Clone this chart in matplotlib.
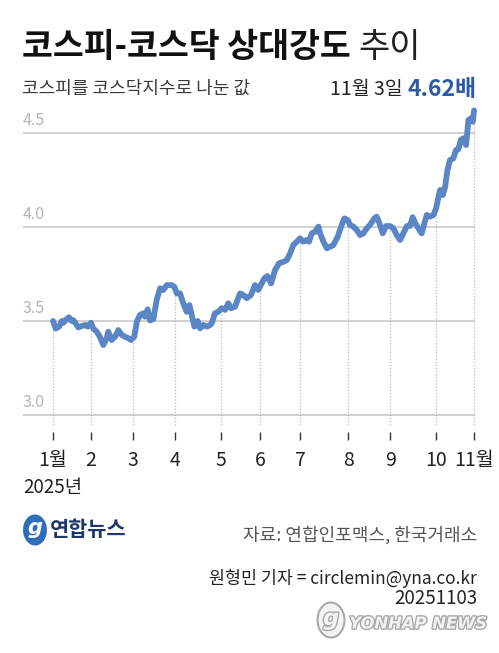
import numpy as np
import matplotlib.pyplot as plt
from matplotlib.patches import Ellipse
from matplotlib import patheffects as pe

plt.rcParams['font.family'] = ['Noto Sans CJK KR', 'DejaVu Sans']

# trading-day number since 2025-01-02 and KOSPI / KOSDAQ ratio
day = [0, 1.3, 2.9, 4.2, 4.9, 6.5, 7.6, 8.9, 9.7, 12.1, 13.7, 15.3, 16.6, 18.1, 19.2,
       20.9, 22.4, 24.0, 25.6, 26.4, 28.0, 29.6, 31.2, 32.8, 34.4, 36.0, 37.2, 38.8,
       40.0, 41.5, 43.1, 43.9, 45.2, 46.3, 47.9, 49.5, 51.1, 52.7, 54.3, 56.7, 57.9,
       59.1, 60.6, 62.2, 63.8, 65.1, 66.2, 67.5, 69.1, 70.2, 71.8, 73.4, 75.0, 75.8,
       77.3, 78.9, 80.5, 82.1, 83.7, 85.0, 86.9, 89.3, 90.9, 92.5, 94.5, 96.4, 98.0,
       99.6, 100.9, 102.3, 104.1, 106.0, 107.9, 110.0, 111.6, 113.2, 114.7, 116.4,
       117.9, 119.5, 121.1, 122.2, 123.5, 125.1, 126.7, 127.5, 129.1, 130.7, 132.3,
       133.8, 135.9, 137.8, 139.1, 140.7, 141.8, 143.4, 145.0, 146.6, 148.1, 149.8,
       151.3, 153.4, 154.5, 155.8, 157.4, 159.0, 160.9, 162.5, 164.1, 165.7, 167.2,
       168.9, 170.4, 171.7, 172.8, 174.4, 176.0, 177.3, 178.4, 180.0, 181.6, 182.9,
       184.0, 184.8, 186.1, 187.2, 188.3, 189.5, 191.1, 192.4, 193.5, 194.7, 195.9,
       197.2, 198.3, 199.5, 200.4, 201]
ratio = [3.50, 3.46, 3.47, 3.50, 3.49, 3.51, 3.52, 3.50, 3.505, 3.466, 3.473, 3.479,
         3.47, 3.491, 3.461, 3.443, 3.416, 3.372, 3.408, 3.443, 3.399, 3.416, 3.452,
         3.426, 3.416, 3.408, 3.399, 3.416, 3.496, 3.532, 3.541, 3.523, 3.562, 3.503,
         3.51, 3.612, 3.674, 3.665, 3.691, 3.691, 3.682, 3.647, 3.647, 3.594, 3.549,
         3.585, 3.532, 3.47, 3.50, 3.461, 3.479, 3.47, 3.479, 3.488, 3.541, 3.549,
         3.568, 3.559, 3.594, 3.568, 3.576, 3.647, 3.638, 3.621, 3.638, 3.691, 3.665,
         3.70, 3.727, 3.739, 3.70, 3.771, 3.807, 3.815, 3.824, 3.86, 3.904, 3.922,
         3.94, 3.922, 3.931, 3.922, 3.966, 3.975, 4.002, 3.966, 3.922, 3.887, 3.895,
         3.904, 3.948, 4.011, 4.046, 4.037, 4.011, 4.002, 3.984, 3.957, 3.966, 3.993,
         4.011, 4.046, 4.055, 4.021, 3.966, 4.005, 4.005, 3.993, 3.957, 3.931, 3.966,
         4.005, 4.005, 4.052, 4.023, 3.993, 3.966, 4.02, 4.064, 4.055, 4.064, 4.10,
         4.161, 4.197, 4.17, 4.214, 4.303, 4.356, 4.365, 4.41, 4.413, 4.463, 4.472,
         4.436, 4.569, 4.578, 4.56, 4.62]

# first trading day of each month
month_day = [0, 18, 38, 58, 80, 99, 118, 141, 161, 183, 201]
month_lab = ['1월', '2', '3', '4', '5', '6', '7', '8', '9', '10', '11월']
y_ticks = [3.0, 3.5, 4.0, 4.5]

line_col = '#5b86c5'
grid_col = '#c9c9c9'

fig = plt.figure(figsize=(4.99, 6.53), dpi=100)
W, H = 499, 653

def fx(px):
    return px / W

def fy(py):
    return 1 - py / H

ax = fig.add_axes([fx(23), fy(432), fx(477) - fx(23), fy(100) - fy(432)])
ax.set_xlim(-14.32, 202.4)
ax.set_ylim(2.9096, 4.6755)
for s in ax.spines.values():
    s.set_visible(False)
ax.set_yticks([])

# horizontal grid and labels
for v in y_ticks:
    ax.plot([-14.32, 201], [v, v], color=grid_col, lw=1.2, zorder=1)
    ax.text(-14.32, v + 0.022, f'{v:.1f}', ha='left', va='bottom',
            fontsize=11.5, color='#b5b5b5')

# dotted month guides
for d in month_day:
    top = np.interp(d, day, ratio)
    ax.plot([d, d], [2.947, top], color='#b8b8b8', lw=0.9, ls=(0, (1, 1.5)), zorder=1)

ax.plot(day, ratio, color=line_col, lw=4.2, solid_capstyle='round',
        solid_joinstyle='round', zorder=3, clip_on=False)

ax.set_xticks(month_day)
ax.set_xticklabels(month_lab)
ax.tick_params(axis='x', direction='out', length=5.8, width=1, color='#333333',
               pad=7, labelsize=14, labelcolor='#222222')

# titles
fig.text(fx(22), fy(47), '코스피-코스닥 상대강도', fontsize=24.2, fontweight='bold',
         color='#111111', ha='left', va='center')
fig.text(fx(358), fy(47), '추이', fontsize=24.5, color='#222222', ha='left', va='center')
fig.text(fx(22), fy(89), '코스피를 코스닥지수로 나눈 값', fontsize=13, color='#3a3a3a',
         ha='left', va='center')
fig.text(fx(403), fy(90), '11월 3일', fontsize=14, color='#222222', ha='right', va='center')
fig.text(fx(477), fy(90), '4.62배', fontsize=16.5, fontweight='bold', color='#2b5ca3',
         ha='right', va='center')

fig.text(fx(23), fy(488), '2025년', fontsize=13.5, color='#222222', ha='left', va='center')

# logo
fig.patches.append(Ellipse((fx(35), fy(530)), 24 / W, 31 / H, angle=-25,
                           transform=fig.transFigure, facecolor='#2f6fba', edgecolor='none'))
fig.text(fx(35), fy(528), 'g', fontsize=15, color='white', ha='center', va='center',
         family='DejaVu Sans', fontstyle='italic', fontweight='bold')
fig.text(fx(50), fy(530), '연합뉴스', fontsize=15, fontweight='bold', color='#1d3768',
         ha='left', va='center')

fig.text(fx(477), fy(535), '자료: 연합인포맥스, 한국거래소', fontsize=13, color='#555555',
         ha='right', va='center')
fig.text(fx(477), fy(578), '원형민 기자 = circlemin@yna.co.kr', fontsize=12.5,
         color='#222222', ha='right', va='center')
fig.text(fx(477), fy(598), '20251103', fontsize=13.5, color='#222222', ha='right', va='center')

# watermark
stroke = [pe.withStroke(linewidth=2, foreground='#a9a9a9')]
fig.patches.append(Ellipse((fx(331), fy(620)), 27 / W, 35 / H, angle=-25,
                           transform=fig.transFigure, facecolor='#f4f4f4',
                           edgecolor='#a9a9a9', lw=1.5))
fig.text(fx(331), fy(619), 'g', fontsize=16, color='#f4f4f4', ha='center', va='center',
         family='DejaVu Sans', fontstyle='italic', fontweight='bold', path_effects=stroke)
fig.text(fx(487), fy(624), 'YONHAP NEWS', fontsize=11.8, fontweight='bold', fontstyle='italic',
         family='DejaVu Sans', color='#f2f2f2', ha='right', va='center', path_effects=stroke)

fig.savefig('out.png', dpi=100)
